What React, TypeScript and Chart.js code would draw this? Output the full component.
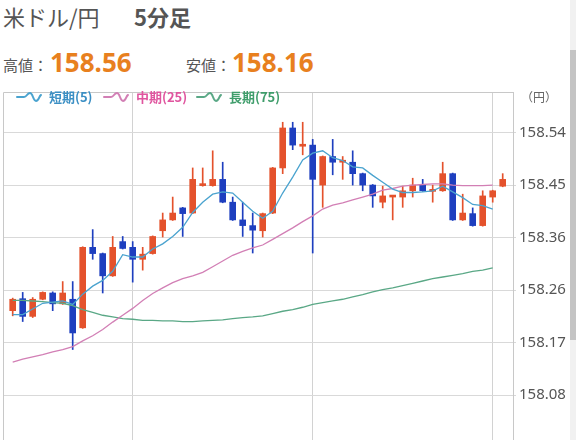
import React, { useEffect, useRef } from "react";
import { Chart, registerables } from "chart.js";

Chart.register(...registerables);

// ---- data (5-minute USD/JPY candles) ----
const opens = [
  158.228, 158.249, 158.218, 158.248, 158.259, 158.24, 158.248, 158.198, 158.339, 158.328,
  158.289, 158.349, 158.339, 158.318, 158.328, 158.368, 158.387, 158.408, 158.399, 158.447,
  158.447, 158.458, 158.418, 158.387, 158.377, 158.368, 158.399, 158.478, 158.548, 158.516,
  158.518, 158.448, 158.498, 158.488, 158.488, 158.468, 158.448, 158.418, 158.427, 158.427,
  158.438, 158.448, 158.437, 158.438, 158.468, 158.387, 158.398, 158.377, 158.427, 158.446,
];
const highs = [
  158.25, 158.26, 158.251, 158.261, 158.261, 158.279, 158.279, 158.34, 158.37, 158.329,
  158.358, 158.358, 158.349, 158.339, 158.359, 158.399, 158.427, 158.409, 158.478, 158.478,
  158.508, 158.488, 158.427, 158.418, 158.399, 158.399, 158.479, 158.558, 158.558, 158.558,
  158.528, 158.499, 158.528, 158.498, 158.508, 158.469, 158.449, 158.446, 158.43, 158.446,
  158.46, 158.458, 158.448, 158.488, 158.469, 158.432, 158.408, 158.438, 158.439, 158.468,
];
const lows = [
  158.219, 158.209, 158.216, 158.247, 158.228, 158.239, 158.16, 158.197, 158.318, 158.259,
  158.288, 158.336, 158.278, 158.299, 158.327, 158.357, 158.386, 158.358, 158.398, 158.446,
  158.446, 158.417, 158.386, 158.358, 158.329, 158.357, 158.398, 158.468, 158.51, 158.501,
  158.329, 158.409, 158.466, 158.458, 158.448, 158.438, 158.409, 158.408, 158.387, 158.409,
  158.427, 158.437, 158.418, 158.437, 158.386, 158.386, 158.376, 158.376, 158.418, 158.445,
];
const closes = [
  158.248, 158.218, 158.248, 158.26, 158.24, 158.259, 158.189, 158.339, 158.328, 158.289,
  158.339, 158.337, 158.318, 158.327, 158.358, 158.387, 158.399, 158.398, 158.458, 158.449,
  158.458, 158.418, 158.387, 158.377, 158.369, 158.398, 158.478, 158.548, 158.518, 158.519,
  158.458, 158.498, 158.488, 158.49, 158.468, 158.448, 158.429, 158.429, 158.429, 158.438,
  158.448, 158.438, 158.438, 158.468, 158.387, 158.399, 158.377, 158.429, 158.438, 158.458,
];
const ma5 = [
  158.221, 158.221, 158.231, 158.241, 158.243, 158.245, 158.239, 158.257, 158.271, 158.281,
  158.297, 158.326, 158.322, 158.322, 158.336, 158.345, 158.358, 158.374, 158.4, 158.418,
  158.432, 158.436, 158.434, 158.418, 158.402, 158.39, 158.402, 158.434, 158.462, 158.492,
  158.504, 158.508, 158.496, 158.491, 158.48, 158.478, 158.465, 158.453, 158.441, 158.435,
  158.435, 158.436, 158.438, 158.446, 158.436, 158.426, 158.414, 158.412, 158.406, null,
];
const ma25 = [
  158.138, 158.143, 158.147, 158.151, 158.156, 158.16, 158.165, 158.175, 158.184, 158.195,
  158.208, 158.22, 158.232, 158.246, 158.258, 158.268, 158.277, 158.284, 158.289, 158.295,
  158.305, 158.315, 158.325, 158.332, 158.338, 158.343, 158.353, 158.363, 158.373, 158.384,
  158.394, 158.406, 158.413, 158.417, 158.422, 158.427, 158.432, 158.439, 158.442, 158.446,
  158.448, 158.449, 158.45, 158.45, 158.448, 158.447, 158.447, 158.447, 158.448, null,
];
const ma75 = [
  158.246, 158.246, 158.245, 158.244, 158.242, 158.241, 158.237, 158.23, 158.225, 158.22,
  158.217, 158.214, 158.213, 158.211, 158.211, 158.21, 158.21, 158.209, 158.209, 158.21,
  158.211, 158.212, 158.214, 158.216, 158.217, 158.219, 158.223, 158.227, 158.23, 158.234,
  158.239, 158.242, 158.245, 158.248, 158.252, 158.256, 158.261, 158.265, 158.268, 158.272,
  158.276, 158.28, 158.284, 158.287, 158.29, 158.293, 158.297, 158.299, 158.303, null,
];
const yTickValues = [158.08, 158.172, 158.264, 158.356, 158.448, 158.54];
const timeGridSlots = [12, 30, 48];
const highLabel = "158.56";
const lowLabel = "158.16";
const legendItems = [
  { label: "短期(5)", color: "#3b8fc4", line: "#4aa3cf", x: 16 },
  { label: "中期(25)", color: "#e0559f", line: "#d27fb5", x: 103 },
  { label: "長期(75)", color: "#3f9d6b", line: "#5aa886", x: 196 },
];

const Y_MIN = 157.984;
const Y_MAX = 158.611;
const X_MIN = -0.97;
const X_MAX = 50.03;
const UP = "#e4522c";
const DOWN = "#1e3fbf";
const FONT_LAT = '"Noto Sans", "Noto Sans CJK JP", sans-serif';
const FONT_JP = '"Noto Sans CJK JP", "Noto Sans", sans-serif';

function Wave({ color }: { color: string }) {
  return (
    <svg width="26" height="12" viewBox="0 0 26 12" style={{ display: "block" }}>
      <path
        d="M1 6 L8 6 C11 6 11 2 14 2 C17 2 17 10 20 10 C23 10 23 5 25 4"
        fill="none"
        stroke={color}
        strokeWidth="2"
        strokeLinecap="round"
      />
    </svg>
  );
}

export default function App() {
  const ref = useRef<HTMLCanvasElement>(null);

  useEffect(() => {
    const canvas = ref.current;
    if (!canvas) return;
    const colors = closes.map((c, i) => (c >= opens[i] ? UP : DOWN));
    const toPoints = (arr: (number | null)[]) =>
      arr.map((v, i) => (v == null ? null : { x: i, y: v })).filter((p) => p !== null);

    const frame = {
      id: "frame",
      beforeDatasetsDraw(chart: any) {
        const { ctx, chartArea } = chart;
        ctx.save();
        ctx.strokeStyle = "#c8c8c8";
        ctx.lineWidth = 1;
        ctx.beginPath();
        const t = Math.round(chartArea.top) + 0.5;
        const l = Math.round(chartArea.left) + 0.5;
        ctx.moveTo(l, chartArea.bottom);
        ctx.lineTo(l, t);
        ctx.lineTo(chartArea.right, t);
        ctx.stroke();
        ctx.restore();
      },
    };

    const chart = new Chart(canvas, {
      type: "bar",
      data: {
        datasets: [
          {
            type: "line",
            label: "短期(5)",
            data: toPoints(ma5) as any,
            borderColor: "#4aa3cf",
            borderWidth: 1.3,
            pointRadius: 0,
            tension: 0,
            order: 0,
          },
          {
            type: "line",
            label: "中期(25)",
            data: toPoints(ma25) as any,
            borderColor: "#d27fb5",
            borderWidth: 1.3,
            pointRadius: 0,
            tension: 0,
            order: 0,
          },
          {
            type: "line",
            label: "長期(75)",
            data: toPoints(ma75) as any,
            borderColor: "#5aa886",
            borderWidth: 1.3,
            pointRadius: 0,
            tension: 0,
            order: 0,
          },
          {
            type: "bar",
            label: "body",
            data: opens.map((o, i) => ({ x: i, y: [o, closes[i]] })) as any,
            backgroundColor: colors,
            borderWidth: 0,
            barThickness: 6,
            minBarLength: 2,
            grouped: false,
            order: 1,
          },
          {
            type: "bar",
            label: "wick",
            data: lows.map((l, i) => ({ x: i, y: [l, highs[i]] })) as any,
            backgroundColor: colors,
            borderWidth: 0,
            barThickness: 1,
            grouped: false,
            order: 2,
          },
        ],
      },
      options: {
        animation: false,
        responsive: false,
        maintainAspectRatio: false,
        layout: { padding: { left: 3, top: 6, right: 0, bottom: 0 } },
        plugins: {
          legend: { display: false },
          tooltip: { enabled: false },
        },
        scales: {
          x: {
            type: "linear",
            min: X_MIN,
            max: X_MAX,
            offset: false,
            grid: { offset: false, color: "#d2d2d2", drawTicks: false, lineWidth: 1 },
            border: { display: false },
            ticks: { display: false },
            afterBuildTicks: (s: any) => {
              s.ticks = timeGridSlots.map((v) => ({ value: v }));
            },
            afterFit: (s: any) => {
              s.height = 30;
            },
          } as any,
          y: {
            position: "right",
            min: Y_MIN,
            max: Y_MAX,
            grid: { color: "#d9d9d9", tickLength: 3, lineWidth: 1 },
            border: { display: true, color: "#c8c8c8" },
            ticks: {
              color: "#555",
              padding: 3,
              font: { size: 15, family: FONT_LAT },
              callback: (v: any) => Number(v).toFixed(2),
            },
            afterBuildTicks: (s: any) => {
              s.ticks = yTickValues.map((v) => ({ value: v }));
            },
            afterFit: (s: any) => {
              s.width = 57;
            },
          } as any,
        },
      },
      plugins: [frame],
    });
    return () => chart.destroy();
  }, []);

  return (
    <div
      style={{
        position: "fixed",
        left: 0,
        top: 0,
        width: 576,
        height: 440,
        overflow: "hidden",
        background: "#fff",
        fontFamily: FONT_JP,
      }}
    >
      <div style={{ position: "absolute", left: 3, top: 5, fontSize: 22, lineHeight: "22px", color: "#555" }}>
        米ドル/円
      </div>
      <div
        style={{ position: "absolute", left: 134, top: 5, fontSize: 22, lineHeight: "22px", color: "#555", fontWeight: 700 }}
      >
        5分足
      </div>
      <div style={{ position: "absolute", left: 3, top: 57, fontSize: 15, lineHeight: "15px", color: "#555" }}>
        高値：
      </div>
      <div
        style={{
          position: "absolute",
          left: 50,
          top: 49,
          fontSize: 26,
          lineHeight: "26px",
          color: "#e8801e",
          fontWeight: 700,
          fontFamily: FONT_LAT,
        }}
      >
        {highLabel}
      </div>
      <div style={{ position: "absolute", left: 186, top: 57, fontSize: 15, lineHeight: "15px", color: "#555" }}>
        安値：
      </div>
      <div
        style={{
          position: "absolute",
          left: 232,
          top: 49,
          fontSize: 26,
          lineHeight: "26px",
          color: "#e8801e",
          fontWeight: 700,
          fontFamily: FONT_LAT,
        }}
      >
        {lowLabel}
      </div>

      <canvas
        ref={ref}
        width={570}
        height={400}
        style={{ position: "absolute", left: 0, top: 80, width: 570, height: 400, display: "block" }}
      />

      {legendItems.map((it) => (
        <div
          key={it.label}
          style={{
            position: "absolute",
            left: it.x,
            top: 90,
            display: "flex",
            alignItems: "center",
            gap: 7,
            fontSize: 13,
            lineHeight: "14px",
            fontWeight: 700,
            color: it.color,
          }}
        >
          <Wave color={it.line} />
          <span>{it.label}</span>
        </div>
      ))}
      <div style={{ position: "absolute", left: 521, top: 90, fontSize: 12, lineHeight: "14px", color: "#666" }}>
        （円）
      </div>

      <div style={{ position: "absolute", left: 570, top: 0, width: 6, height: 440, background: "#f1f1f1" }} />
      <div style={{ position: "absolute", left: 570, top: 50, width: 6, height: 290, background: "#c4c4c4" }} />
    </div>
  );
}
